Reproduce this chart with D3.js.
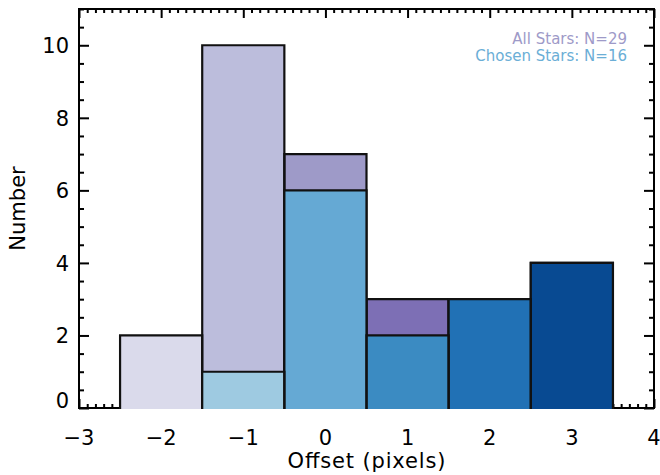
<!DOCTYPE html>
<html>
<head>
<meta charset="utf-8">
<script src="https://cdn.jsdelivr.net/npm/d3@7"></script>
<style>
  html, body { margin: 0; padding: 0; background: #fff; }
  svg { display: block; }
  text { font-family: "DejaVu Sans", "Liberation Sans", sans-serif; }
</style>
</head>
<body>
<svg id="chart" width="660" height="475"></svg>
<script>
// Histogram bins (centre of each 1-pixel-wide bin)
const binCenters = [-2, -1, 0, 1, 2, 3];
// Counts per bin
const allStars = [2, 10, 7, 3, 3, 4];
const chosenStars = [0, 1, 6, 2, 3, 4];
// Per-bin fill colours
const allColors = ["#dadaeb", "#bcbddc", "#9e9ac8", "#7d6fb5", "#6a51a3", "#4a1486"];
const chosenColors = ["#c6dbef", "#9ecae1", "#65a9d4", "#3b8bc2", "#2171b5", "#084a92"];
// Axis ticks
const xTicks = [-3, -2, -1, 0, 1, 2, 3, 4];
const yTicks = [0, 2, 4, 6, 8, 10];
const legendLines = ["All Stars: N=29", "Chosen Stars: N=16"];

const W = 660, H = 475;
const margin = { left: 79, right: 6, top: 9, bottom: 67 };
const svg = d3.select("#chart");

const x = d3.scaleLinear().domain([-3, 4]).range([margin.left, W - margin.right]);
const y = d3.scaleLinear().domain([0, 11]).range([H - margin.bottom, margin.top]);

const xMinor = d3.range(-30, 41).map(d => d / 10).filter(d => !xTicks.includes(d));
const yMinor = d3.range(0, 23).map(d => d / 2).filter(d => !yTicks.includes(d));

const g = svg.append("g");

// Frame
g.append("rect")
  .attr("x", x(-3)).attr("y", y(11))
  .attr("width", x(4) - x(-3)).attr("height", y(0) - y(11))
  .attr("fill", "none").attr("stroke", "#000").attr("stroke-width", 2);

// Inward ticks on all four sides
function ticks(axisFn, scale, vals, size, transform) {
  const a = axisFn(scale).tickValues(vals).tickSize(size).tickSizeOuter(0).tickFormat("");
  const sel = g.append("g").attr("transform", transform).call(a);
  sel.select(".domain").remove();
  sel.selectAll("line").attr("stroke", "#000").attr("stroke-width", 2);
}
ticks(d3.axisBottom, x, xTicks, -9, `translate(0,${y(0)})`);
ticks(d3.axisBottom, x, xMinor, -4, `translate(0,${y(0)})`);
ticks(d3.axisTop, x, xTicks, -9, `translate(0,${y(11)})`);
ticks(d3.axisTop, x, xMinor, -4, `translate(0,${y(11)})`);
ticks(d3.axisLeft, y, yTicks, -10, `translate(${x(-3)},0)`);
ticks(d3.axisLeft, y, yMinor, -5, `translate(${x(-3)},0)`);
ticks(d3.axisRight, y, yTicks, -10, `translate(${x(4)},0)`);
ticks(d3.axisRight, y, yMinor, -5, `translate(${x(4)},0)`);

// Histogram bars: fill plus left/top/right outline
function bars(counts, colors) {
  const data = binCenters.map((c, i) => ({ c, v: counts[i], col: colors[i] })).filter(d => d.v > 0);
  const grp = g.append("g");
  grp.selectAll("rect").data(data).join("rect")
    .attr("x", d => x(d.c - 0.5))
    .attr("y", d => y(d.v))
    .attr("width", d => x(d.c + 0.5) - x(d.c - 0.5))
    .attr("height", d => y(0) - y(d.v) + 1)
    .attr("fill", d => d.col);
  grp.selectAll("path").data(data).join("path")
    .attr("d", d => `M${x(d.c - 0.5)},${y(0) + 1}V${y(d.v)}H${x(d.c + 0.5)}V${y(0) + 1}`)
    .attr("fill", "none").attr("stroke", "#111").attr("stroke-width", 2.2);
}
bars(allStars, allColors);
bars(chosenStars, chosenColors);

// Tick labels
const fmt = d => (d < 0 ? "\u2212" + Math.abs(d) : String(d));
g.append("g").selectAll("text").data(xTicks).join("text")
  .attr("x", d => x(d)).attr("y", y(0) + 37)
  .attr("text-anchor", "middle").attr("font-size", 21).attr("fill", "#000")
  .text(fmt);
g.append("g").selectAll("text").data(yTicks).join("text")
  .attr("x", x(-3) - 10).attr("y", d => (d === 0 ? y(d) - 8 : y(d)) + 8)
  .attr("text-anchor", "end").attr("font-size", 21).attr("fill", "#000")
  .text(fmt);

// Axis titles
svg.append("text")
  .attr("x", (x(-3) + x(4)) / 2).attr("y", 468)
  .attr("text-anchor", "middle").attr("font-size", 21)
  .attr("textLength", 158).attr("lengthAdjust", "spacing")
  .text("Offset (pixels)");
svg.append("text")
  .attr("transform", `translate(25,${(y(0) + y(11)) / 2}) rotate(-90)`)
  .attr("text-anchor", "middle").attr("font-size", 21)
  .text("Number");

// Legend
const legendColors = ["#9e9ac8", "#6baed6"];
svg.append("g").selectAll("text").data(legendLines).join("text")
  .attr("x", 627).attr("y", (d, i) => 44 + i * 17)
  .attr("text-anchor", "end").attr("font-size", 15)
  .attr("fill", (d, i) => legendColors[i])
  .text(d => d);
</script>
</body>
</html>
